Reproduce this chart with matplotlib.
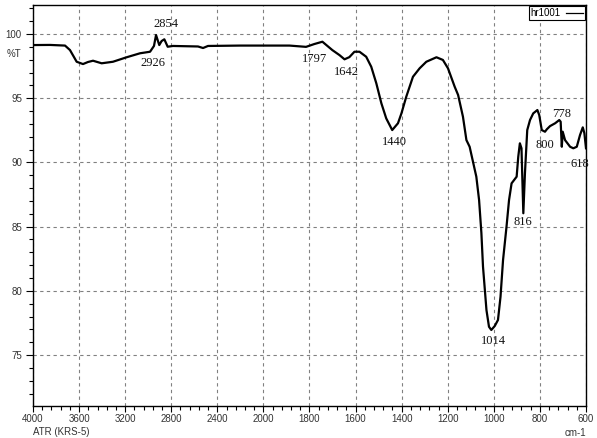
import numpy as np
import matplotlib
matplotlib.use("Agg")
import matplotlib.pyplot as plt
from matplotlib.ticker import FixedLocator, NullFormatter

# spectrum: wavenumber (cm-1) and %T
wavenumber = [4000, 3852, 3722, 3679, 3621, 3566, 3523, 3479, 3404, 3306,
              3187, 3071, 2984, 2950, 2932, 2904, 2884, 2860, 2831, 2785,
              2568, 2524, 2481, 2203, 2000, 1887, 1815, 1779, 1744, 1701,
              1670, 1648, 1627, 1605, 1583, 1554, 1532, 1510, 1488, 1467,
              1441, 1416, 1401, 1380, 1351, 1322, 1293, 1249, 1221, 1199,
              1170, 1155, 1134, 1119, 1105, 1076, 1064, 1054, 1047, 1032,
              1021, 1011, 996, 982, 971, 960, 945, 934, 923, 901,
              894, 887, 880, 872, 865, 855, 843, 829, 811, 803,
              792, 778, 770, 756, 734, 716, 710, 705, 701, 691,
              669, 655, 640, 626, 614, 607, 600]
transmittance = [99.14, 99.15, 99.10, 98.75, 97.84, 97.66, 97.82, 97.92, 97.72, 97.84,
                 98.19, 98.50, 98.62, 99.07, 99.92, 99.14, 99.45, 99.59, 99.01, 99.07,
                 99.03, 98.91, 99.07, 99.10, 99.10, 99.10, 99.00, 99.22, 99.40, 98.75,
                 98.36, 98.03, 98.20, 98.62, 98.62, 98.23, 97.45, 96.16, 94.60, 93.43,
                 92.52, 93.05, 93.82, 95.12, 96.67, 97.33, 97.84, 98.19, 97.98, 97.33,
                 95.90, 95.25, 93.56, 91.74, 91.22, 88.89, 87.07, 84.50, 81.88, 78.50,
                 77.20, 76.95, 77.26, 77.73, 79.54, 82.40, 84.99, 87.07, 88.37, 88.89,
                 90.44, 91.49, 91.10, 86.04, 89.15, 92.52, 93.30, 93.82, 94.08, 93.69,
                 92.52, 92.39, 92.58, 92.83, 93.05, 93.30, 93.17, 91.22, 92.39, 91.74,
                 91.22, 91.10, 91.22, 92.13, 92.73, 92.27, 91.10]

# peak labels and where they sit
peak_labels = ["2854", "2926", "1797", "1642", "1440", "1014", "816", "800", "778", "618"]
peak_x = [2845, 2958, 1776, 1640, 1433, 1002, 873, 777, 705, 626]
peak_y = [100.78, 97.74, 98.05, 97.07, 91.6, 76.1, 85.36, 91.35, 93.77, 89.9]

x_ticks = [4000, 3600, 3200, 2800, 2400, 2000, 1800, 1600, 1400, 1200, 1000, 800, 600]
y_ticks = [75, 80, 85, 90, 95, 100]


def forward(x):
    x = np.asarray(x, dtype=float)
    return np.where(x > 2000, 2000 + (x - 2000) / 2.0, x)


def inverse(x):
    x = np.asarray(x, dtype=float)
    return np.where(x > 2000, 2000 + (x - 2000) * 2.0, x)


plt.rcParams['font.family'] = ['Liberation Sans', 'DejaVu Sans']

fig = plt.figure(figsize=(5.97, 4.38), dpi=100)
ax = fig.add_axes([33 / 597, 32 / 438, 553 / 597, 401 / 438])

ax.set_xscale('function', functions=(forward, inverse))
ax.plot(wavenumber, transmittance, color='black', lw=1.6, label='hr1001')
ax.set_xlim(4000, 600)
ax.set_ylim(71.03, 102.26)

ax.xaxis.set_major_locator(FixedLocator(x_ticks))
minor = []
for a, b in zip(x_ticks[:-1], x_ticks[1:]):
    minor += list(np.linspace(a, b, 6)[1:-1])
ax.xaxis.set_minor_locator(FixedLocator(minor))
ax.xaxis.set_minor_formatter(NullFormatter())
ax.set_xticklabels([str(t) for t in x_ticks])

ax.yaxis.set_major_locator(FixedLocator(y_ticks))
ax.yaxis.set_minor_locator(FixedLocator([v for v in range(72, 103) if v % 5]))

ax.tick_params(axis='both', which='major', direction='out', length=5, width=0.8,
               labelsize=7, colors='black', labelcolor='#333333')
ax.tick_params(axis='both', which='minor', direction='out', length=3, width=0.8)
ax.tick_params(axis='x', which='major', length=4, pad=2)
ax.tick_params(axis='y', which='major', pad=3)

ax.grid(True, which='major', color='#808080', linestyle=(0, (3, 3)), lw=0.8)
for s in ax.spines.values():
    s.set_linewidth(1.0)

for txt, xx, yy in zip(peak_labels, peak_x, peak_y):
    ax.text(xx, yy, txt, fontsize=9, family=['Liberation Serif'],
            ha='center', va='center', color='#111111')

ax.text(-0.035, 0.878, '%T', transform=ax.transAxes, fontsize=7,
        ha='center', va='center', color='#333333')
ax.text(0.0, -0.065, 'ATR (KRS-5)', transform=ax.transAxes, fontsize=7,
        ha='left', va='center', color='#333333')
ax.text(1.0, -0.067, 'cm-1', transform=ax.transAxes, fontsize=7,
        ha='right', va='center', color='#333333')

leg = ax.legend(loc='upper right', fontsize=7, frameon=True, fancybox=False,
                edgecolor='black', framealpha=1, markerfirst=False,
                handlelength=1.8, handletextpad=0.5, borderpad=0.2,
                borderaxespad=0.1)
leg.get_frame().set_linewidth(0.8)
for line in leg.get_lines():
    line.set_linewidth(0.9)

fig.savefig('out.png', dpi=100)
